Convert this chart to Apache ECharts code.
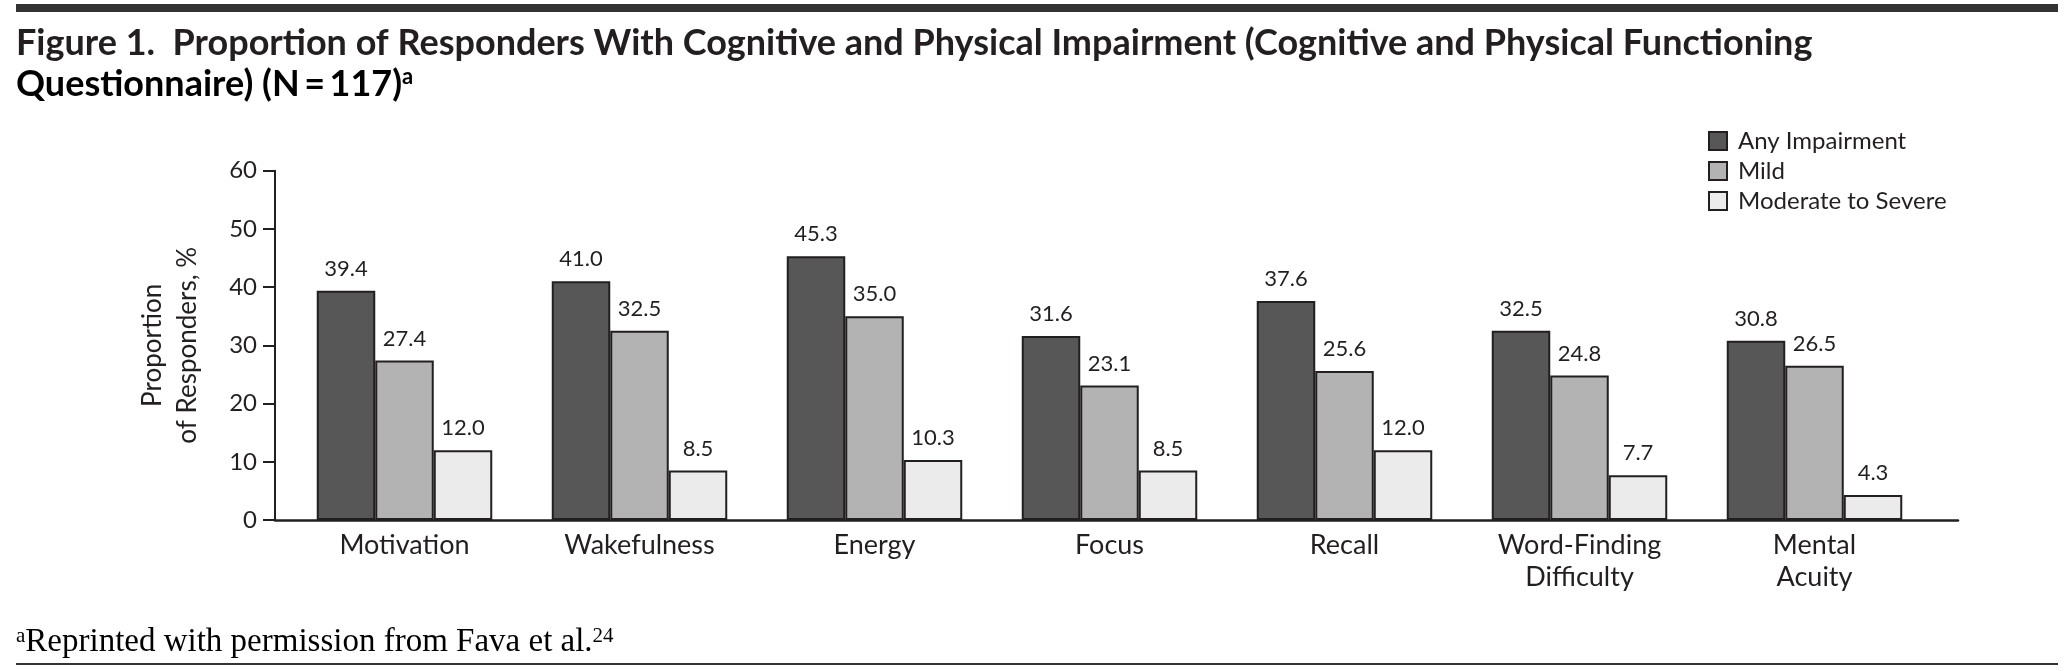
<!DOCTYPE html>
<html>
<head>
<meta charset="utf-8">
<script src="https://cdn.jsdelivr.net/npm/echarts@6/dist/echarts.min.js"></script>
<style>
html,body{margin:0;padding:0;background:#fff;}
#chart{width:2069px;height:671px;}
</style>
</head>
<body>
<div id="chart"></div>
<script>
const categories = ['Motivation', 'Wakefulness', 'Energy', 'Focus', 'Recall', 'Word-Finding\nDifficulty', 'Mental\nAcuity'];
const seriesNames = ['Any Impairment', 'Mild', 'Moderate to Severe'];
const anyImpairment = [39.4, 41.0, 45.3, 31.6, 37.6, 32.5, 30.8];
const mild = [27.4, 32.5, 35.0, 23.1, 25.6, 24.8, 26.5];
const moderateSevere = [12.0, 8.5, 10.3, 8.5, 12.0, 7.7, 4.3];
const yTicks = [0, 10, 20, 30, 40, 50, 60];

const INK = '#231f20';
const fillColors = ['#575757', '#b3b3b3', '#ebebeb'];
const sans = 'Lato, "Open Sans", sans-serif';
const serif = '"Liberation Serif", "DejaVu Serif", serif';

const chart = echarts.init(document.getElementById('chart'));
const values = [anyImpairment, mild, moderateSevere];

const option = {
  animation: false,
  backgroundColor: '#fff',
  grid: [
    {left: 287, width: 1645, top: 170.7, height: 349.3},
    {left: 275, width: 1683, top: 170.7, height: 349.3}
  ],
  xAxis: [
    {
      type: 'category', gridIndex: 0, data: categories,
      axisLine: {show: false}, axisTick: {show: false},
      axisLabel: {color: INK, fontFamily: sans, fontSize: 27, lineHeight: 32, margin: 9, interval: 0}
    },
    {
      type: 'value', gridIndex: 1, min: 0, max: 1,
      axisLine: {show: true, lineStyle: {color: INK, width: 2.5}},
      axisTick: {show: false}, axisLabel: {show: false}, splitLine: {show: false}
    }
  ],
  yAxis: [
    {type: 'value', gridIndex: 0, min: 0, max: 60, interval: 10, show: false},
    {
      type: 'value', gridIndex: 1, min: yTicks[0], max: yTicks[yTicks.length - 1], interval: 10,
      axisLine: {show: true, lineStyle: {color: INK, width: 2}},
      axisTick: {show: true, length: 12, lineStyle: {color: INK, width: 2}},
      axisLabel: {color: INK, fontFamily: sans, fontSize: 24, margin: 18},
      splitLine: {show: false},
      name: 'Proportion\nof Responders, %',
      nameLocation: 'middle', nameRotate: 90, nameGap: 70,
      nameTextStyle: {color: INK, fontFamily: sans, fontSize: 26, lineHeight: 35}
    }
  ],
  legend: {
    orient: 'vertical', left: 1703, top: 124, itemWidth: 18, itemHeight: 18, itemGap: 6,
    icon: 'rect',
    textStyle: {color: INK, fontFamily: sans, fontSize: 24, padding: [0, 0, 0, 6]},
    data: seriesNames
  },
  series: seriesNames.map((name, i) => ({
    name: name, type: 'bar', xAxisIndex: 0, yAxisIndex: 0,
    data: values[i], barWidth: 58.5, barGap: '0%',
    itemStyle: {color: fillColors[i], borderColor: INK, borderWidth: 2},
    label: {
      show: true, position: 'top', distance: 11, color: INK,
      fontFamily: sans, fontSize: 22,
      formatter: p => p.value.toFixed(1)
    }
  })),
  graphic: [
    {type: 'rect', shape: {x: 16, y: 4, width: 2042, height: 8}, style: {fill: '#333'}, silent: true},
    {type: 'rect', shape: {x: 16, y: 663, width: 2042, height: 2}, style: {fill: '#333'}, silent: true},
    {type: 'text', x: 16, y: 43, style: {
      text: 'Figure 1.  Proportion of Responders With Cognitive and Physical Impairment (Cognitive and Physical Functioning',
      fill: INK, font: 'bold 36px ' + sans, verticalAlign: 'middle'}},
    {type: 'text', x: 16, y: 84, style: {
      text: '{t|Questionnaire) (N\u2009=\u2009117)}{s|a}',
      verticalAlign: 'middle',
      rich: {
        t: {fontFamily: sans, fontWeight: 'bold', fontSize: 36, color: INK},
        s: {fontFamily: sans, fontWeight: 'bold', fontSize: 22, verticalAlign: 'top', color: INK, padding: [0, 0, 6, 0]}
      }}},
    {type: 'text', x: 16, y: 642, style: {
      text: '{s|a}{t|Reprinted with permission from Fava et al.}{s|24}',
      verticalAlign: 'middle',
      rich: {
        t: {fontFamily: serif, fontSize: 33, color: INK},
        s: {fontFamily: serif, fontSize: 21, verticalAlign: 'top', color: INK}
      }}}
  ]
};
chart.setOption(option);
</script>
</body>
</html>
